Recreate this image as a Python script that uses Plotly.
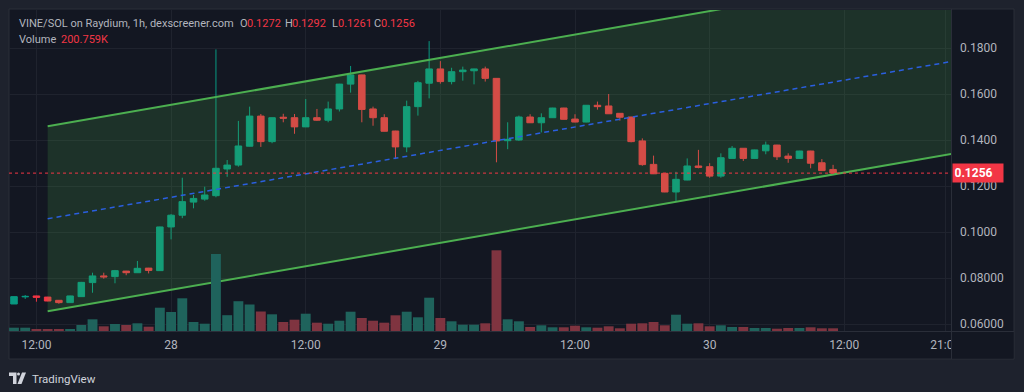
import plotly.graph_objects as go
import pandas as pd

# ---------------- data ----------------
times = pd.date_range("2025-01-27 10:00", periods=74, freq="h")

opens = [0.0687, 0.0718, 0.0722, 0.0717, 0.0703, 0.0693, 0.0719, 0.0780, 0.0809, 0.0806,
         0.0830, 0.0823, 0.0843, 0.0832, 0.1022, 0.1073, 0.1130, 0.1143, 0.1158, 0.1274,
         0.1291, 0.1373, 0.1504, 0.1393, 0.1499, 0.1497, 0.1457, 0.1497, 0.1486, 0.1535,
         0.1643, 0.1683, 0.1535, 0.1497, 0.1439, 0.1370, 0.1545, 0.1647, 0.1709, 0.1654,
         0.1697, 0.1701, 0.1709, 0.1668, 0.1397, 0.1400, 0.1500, 0.1475, 0.1497, 0.1539,
         0.1491, 0.1478, 0.1551, 0.1548, 0.1516, 0.1500, 0.1396, 0.1294, 0.1255, 0.1174,
         0.1226, 0.1287, 0.1284, 0.1243, 0.1320, 0.1364, 0.1320, 0.1353, 0.1378, 0.1330,
         0.1320, 0.1352, 0.1301, 0.1272]
highs = [0.0720, 0.0726, 0.0723, 0.0718, 0.0704, 0.0723, 0.0783, 0.0823, 0.0823, 0.0835,
         0.0831, 0.0874, 0.0844, 0.1023, 0.1078, 0.1236, 0.1161, 0.1197, 0.1794, 0.1313,
         0.1483, 0.1545, 0.1513, 0.1498, 0.1514, 0.1513, 0.1578, 0.1535, 0.1567, 0.1644,
         0.1722, 0.1684, 0.1545, 0.1512, 0.1440, 0.1571, 0.1657, 0.1830, 0.1743, 0.1714,
         0.1719, 0.1710, 0.1719, 0.1669, 0.1477, 0.1506, 0.1512, 0.1516, 0.1540, 0.1540,
         0.1512, 0.1552, 0.1567, 0.1600, 0.1517, 0.1501, 0.1407, 0.1332, 0.1256, 0.1262,
         0.1320, 0.1357, 0.1299, 0.1342, 0.1374, 0.1365, 0.1358, 0.1393, 0.1379, 0.1342,
         0.1353, 0.1353, 0.1317, 0.1292]
lows = [0.0687, 0.0709, 0.0697, 0.0699, 0.0688, 0.0692, 0.0718, 0.0736, 0.0797, 0.0777,
        0.0812, 0.0822, 0.0820, 0.0831, 0.0968, 0.1060, 0.1103, 0.1136, 0.1151, 0.1240,
        0.1284, 0.1372, 0.1370, 0.1386, 0.1477, 0.1427, 0.1456, 0.1483, 0.1477, 0.1524,
        0.1606, 0.1477, 0.1462, 0.1437, 0.1317, 0.1347, 0.1506, 0.1581, 0.1645, 0.1642,
        0.1658, 0.1642, 0.1654, 0.1303, 0.1360, 0.1396, 0.1474, 0.1433, 0.1496, 0.1489,
        0.1477, 0.1477, 0.1532, 0.1513, 0.1484, 0.1390, 0.1288, 0.1252, 0.1173, 0.1135,
        0.1225, 0.1277, 0.1236, 0.1236, 0.1319, 0.1309, 0.1319, 0.1338, 0.1313, 0.1301,
        0.1319, 0.1277, 0.1266, 0.1256]
closes = [0.0719, 0.0720, 0.0716, 0.0700, 0.0693, 0.0722, 0.0781, 0.0809, 0.0805, 0.0832,
          0.0823, 0.0842, 0.0833, 0.1022, 0.1073, 0.1132, 0.1146, 0.1161, 0.1277, 0.1291,
          0.1374, 0.1504, 0.1393, 0.1497, 0.1495, 0.1457, 0.1497, 0.1486, 0.1535, 0.1643,
          0.1683, 0.1533, 0.1497, 0.1438, 0.1370, 0.1545, 0.1649, 0.1709, 0.1654, 0.1697,
          0.1704, 0.1709, 0.1668, 0.1396, 0.1403, 0.1500, 0.1475, 0.1497, 0.1539, 0.1490,
          0.1478, 0.1551, 0.1545, 0.1514, 0.1499, 0.1393, 0.1293, 0.1253, 0.1174, 0.1229,
          0.1287, 0.1281, 0.1243, 0.1323, 0.1364, 0.1320, 0.1357, 0.1378, 0.1327, 0.1320,
          0.1352, 0.1299, 0.1267, 0.1256]
volumes_k = [246, 246, 149, 149, 149, 149, 446, 870, 350, 521,
             446, 573, 320, 1734, 1414, 2433, 670, 543, 5729, 1176,
             2217, 1972, 1451, 1242, 670, 841, 1287, 618, 543, 766,
             1436, 967, 766, 618, 1168, 1436, 1019, 2478, 967, 722,
             469, 469, 573, 6004, 870, 722, 298, 424, 275, 275,
             394, 275, 246, 350, 201, 543, 573, 670, 424, 1213,
             543, 573, 350, 424, 298, 298, 223, 223, 171, 223,
             223, 275, 201, 200.759]

price_ticks = [0.06, 0.08, 0.10, 0.12, 0.14, 0.16, 0.18]
price_tick_text = ["0.06000", "0.08000", "0.1000", "0.1200", "0.1400", "0.1600", "0.1800"]
time_ticks = ["2025-01-27 12:00", "2025-01-28 00:00", "2025-01-28 12:00", "2025-01-29 00:00",
              "2025-01-29 12:00", "2025-01-30 00:00", "2025-01-30 12:00", "2025-01-30 21:00"]
time_tick_text = ["12:00", "28", "12:00", "29", "12:00", "30", "12:00", "21:00"]

# parallel channel drawing (two anchor times, prices of the three lines)
channel_times = ["2025-01-27 13:00", "2025-01-31 00:00"]
channel_upper = [0.14596, 0.21643]
channel_middle = [0.10577, 0.17620]
channel_lower = [0.06557, 0.13604]

last_price = 0.1256
legend_title = "VINE/SOL on Raydium, 1h, dexscreener.com"
legend_ohlc = [("O", "0.1272"), ("H", "0.1292"), ("L", "0.1261"), ("C", "0.1256")]
legend_volume = "200.759K"

# ---------------- layout helpers ----------------
W, H = 1024, 392
PL, PR, PT, PB = 9, 951, 10, 331
FONT = "Roboto, 'Open Sans', sans-serif"
UP, DOWN = "#089981", "#f23645"
BG, FRAME, BORDER = "#131722", "#1e222d", "#2a2e39"


def fx(x):
    return (x - PL) / (PR - PL)


def fy(y):
    return (PB - y) / (PB - PT)


fig = go.Figure()

# volume (overlay scale)
vol_colors = ["#1f635c" if c >= o else "#7f3440" for o, c in zip(opens, closes)]
fig.add_trace(go.Bar(x=times, y=volumes_k, marker=dict(color=vol_colors, line=dict(width=0)),
                     yaxis="y2", hoverinfo="skip", showlegend=False))

# channel fill
fig.add_trace(go.Scatter(
    x=channel_times + channel_times[::-1],
    y=channel_upper + channel_lower[::-1],
    fill="toself", fillcolor="rgba(76,175,80,0.18)", line=dict(width=0),
    mode="lines", hoverinfo="skip", showlegend=False))

# channel middle line (dashed)
fig.add_trace(go.Scatter(x=channel_times, y=channel_middle, mode="lines",
                         line=dict(color="#2a5fe0", width=1.5, dash="5px,4px"),
                         hoverinfo="skip", showlegend=False))

# candles
fig.add_trace(go.Candlestick(
    x=times, open=opens, high=highs, low=lows, close=closes,
    increasing=dict(line=dict(color=UP, width=1), fillcolor=UP),
    decreasing=dict(line=dict(color=DOWN, width=1), fillcolor=DOWN),
    whiskerwidth=0, showlegend=False, hoverinfo="skip"))

# channel borders
for ys in (channel_upper, channel_lower):
    fig.add_trace(go.Scatter(x=channel_times, y=ys, mode="lines",
                             line=dict(color="#4caf50", width=2),
                             hoverinfo="skip", showlegend=False))

shapes = [
    # chart frame
    dict(type="rect", xref="paper", yref="paper", x0=fx(9), x1=fx(1014), y0=fy(9), y1=fy(359),
         fillcolor=BG, line=dict(color=BORDER, width=1), layer="below"),
    # last price line
    dict(type="line", xref="paper", yref="y", x0=0, x1=1, y0=last_price, y1=last_price,
         line=dict(color=DOWN, width=1, dash="dot"), layer="above"),
    # bottom-right corner (clips the time axis)
    dict(type="rect", xref="paper", yref="paper", x0=fx(951.5), x1=fx(1013.5), y0=fy(331.5), y1=fy(358.5),
         fillcolor=BG, line=dict(width=0), layer="above"),
    # separators
    dict(type="line", xref="paper", yref="paper", x0=fx(951.5), x1=fx(951.5), y0=fy(9), y1=fy(359),
         line=dict(color=BORDER, width=1), layer="above"),
    dict(type="line", xref="paper", yref="paper", x0=fx(9), x1=fx(1014), y0=fy(331.5), y1=fy(331.5),
         line=dict(color=BORDER, width=1), layer="above"),
]


def path(points):
    return "M " + " L ".join(f"{fx(a):.5f},{fy(b):.5f}" for a, b in points) + " Z"


# TradingView logo
logo = "#d1d4dc"
shapes.append(dict(type="path", xref="paper", yref="paper",
                   path=path([(9, 372.5), (16.5, 372.5), (16.5, 384), (13, 384), (13, 376), (9, 376)]),
                   fillcolor=logo, line=dict(width=0), layer="above"))
shapes.append(dict(type="circle", xref="paper", yref="paper", x0=fx(17), x1=fx(20), y0=fy(372.5), y1=fy(375.5),
                   fillcolor=logo, line=dict(width=0), layer="above"))
shapes.append(dict(type="path", xref="paper", yref="paper",
                   path=path([(22, 372.5), (26, 372.5), (21.5, 384), (17.5, 384)]),
                   fillcolor=logo, line=dict(width=0), layer="above"))

annotations = []


def txt(x, y, s, color, size=11, anchor="left", **kw):
    annotations.append(dict(xref="paper", yref="paper", x=fx(x), y=fy(y), text=s, showarrow=False,
                            xanchor=anchor, yanchor="middle", font=dict(family=FONT, size=size, color=color), **kw))


txt(16.5, 23.5, legend_title, "#b2b5be")
for (lab, val), xl, xv in zip(legend_ohlc, [237.5, 283, 329.5, 371.5], [244.5, 289.5, 336, 378.5]):
    txt(xl, 23.5, lab, "#b2b5be")
    txt(xv, 23.5, val, DOWN)
txt(16.5, 39.5, "Volume", "#b2b5be")
txt(58.5, 39.5, legend_volume, DOWN)
txt(29.5, 378.5, "TradingView", "#d1d4dc", size=11.5)

# last price label on the price scale
annotations.append(dict(xref="paper", yref="y", x=fx(952), y=last_price, text="<b>0.1256</b>",
                        showarrow=False, xanchor="left", yanchor="middle", bgcolor=DOWN,
                        width=47, height=15, borderpad=1.5, align="left",
                        font=dict(family=FONT, size=12, color="#ffffff")))

fig.update_layout(
    width=W, height=H,
    margin=dict(l=PL, r=W - PR, t=PT, b=H - PB, pad=0),
    paper_bgcolor=FRAME, plot_bgcolor=BG,
    showlegend=False, hovermode=False,
    boxgap=0.17, bargap=0.12,
    shapes=shapes, annotations=annotations,
    xaxis=dict(type="date", range=["2025-01-27 09:33:20", "2025-01-30 21:30:36"],
               tickvals=time_ticks, ticktext=time_tick_text,
               showgrid=True, gridcolor="#1f232e", gridwidth=1, zeroline=False, showline=False,
               ticks="", ticklabelstandoff=5, tickfont=dict(family=FONT, size=12, color="#b2b5be"),
               rangeslider=dict(visible=False), fixedrange=True),
    yaxis=dict(side="right", range=[0.056957, 0.196522], tickvals=price_ticks, ticktext=price_tick_text,
               showgrid=True, gridcolor="#1f232e", gridwidth=1, zeroline=False, showline=False,
               ticks="", ticklabelstandoff=8, tickfont=dict(family=FONT, size=12, color="#b2b5be"),
               fixedrange=True),
    yaxis2=dict(overlaying="y", range=[0, 23882], visible=False, fixedrange=True),
)

fig.write_html("out.html", config={"displayModeBar": False, "staticPlot": True},
               post_script="document.body.style.margin='0';document.body.style.overflow='hidden';")
